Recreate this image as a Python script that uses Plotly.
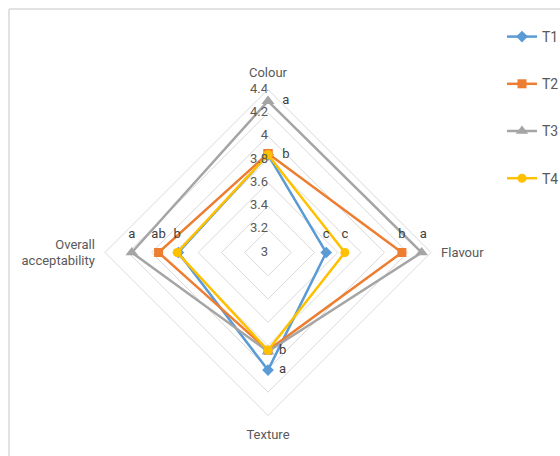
import plotly.graph_objects as go

categories = ["Colour", "Flavour", "Texture", "Overall acceptability"]
category_labels = ["Colour", "Flavour", "Texture", "Overall<br>acceptability"]
series_names = ["T1", "T2", "T3", "T4"]
t1 = [3.84, 3.50, 4.01, 3.77]
t2 = [3.85, 4.15, 3.84, 3.94]
t3 = [4.30, 4.32, 3.85, 4.17]
t4 = [3.84, 3.66, 3.84, 3.78]
letters_t1 = ["", "c", "a", ""]
letters_t2 = ["", "b", "", "ab"]
letters_t3 = ["a", " a", "", "a"]
letters_t4 = ["b", "c", "b", "b"]
radial_ticks = [3, 3.2, 3.4, 3.6, 3.8, 4, 4.2, 4.4]
radial_ticktext = ["3", "3.2", "3.4", "3.6", "3.8", "4", "4.2", "4.4"]

colors = ["#5B9BD5", "#ED7D31", "#A5A5A5", "#FFC000"]
symbols = ["diamond", "square", "triangle-up", "circle"]
values = [t1, t2, t3, t4]
letters = [letters_t1, letters_t2, letters_t3, letters_t4]
positions = ["middle right", "top center", "middle right", "top center"]

FONT = "Liberation Sans Narrow, Arial Narrow, Roboto, sans-serif"

fig = go.Figure()
for name, vals, col, sym in zip(series_names, values, colors, symbols):
    fig.add_trace(go.Scatterpolar(
        r=vals + [vals[0]],
        theta=categories + [categories[0]],
        mode="lines+markers",
        name=name,
        legendgroup=name,
        line=dict(color=col, width=2.5),
        marker=dict(color=col, symbol=sym, size=9 if sym != "triangle-up" else 11),
    ))
for name, vals, let in zip(series_names, values, letters):
    fig.add_trace(go.Scatterpolar(
        r=vals,
        theta=categories,
        mode="markers+text",
        text=[(" " + s if (s and th == "Colour") else s) for s, th in zip(let, categories)],
        textposition=positions,
        marker=dict(size=16, color="rgba(0,0,0,0)"),
        textfont=dict(family=FONT, size=13, color="#404040"),
        showlegend=False,
        hoverinfo="skip",
        cliponaxis=False,
    ))
# radial tick labels, placed left of the vertical axis
fig.add_trace(go.Scatterpolar(
    r=[min(max(v, 3.001), 4.399) for v in radial_ticks],
    theta=[categories[0]] * len(radial_ticks),
    mode="text",
    text=radial_ticktext,
    textposition="middle left",
    textfont=dict(family=FONT, size=13, color="#595959"),
    showlegend=False,
    hoverinfo="skip",
    cliponaxis=False,
))

R = 163
cx, cy = 268, 252.5
W, H = 560, 456
fig.update_layout(
    width=W, height=H,
    margin=dict(l=0, r=0, t=0, b=0, autoexpand=False),
    paper_bgcolor="white",
    font=dict(family=FONT, size=14, color="#595959"),
    polar=dict(
        domain=dict(x=[(cx - R) / W, (cx + R) / W], y=[(H - cy - R) / H, (H - cy + R) / H]),
        bgcolor="white",
        gridshape="linear",
        angularaxis=dict(
            rotation=90, direction="clockwise",
            tickmode="array", tickvals=categories, ticktext=category_labels,
            showgrid=False, showline=True, linecolor="#D9D9D9", linewidth=1,
            ticks="outside", ticklen=7, tickcolor="rgba(0,0,0,0)",
            tickfont=dict(size=13, color="#595959"),
        ),
        radialaxis=dict(
            range=[3, 4.4], tickvals=radial_ticks, showticklabels=False,
            angle=90, showline=False, ticks="", gridcolor="#D9D9D9", gridwidth=1,
        ),
    ),
    legend=dict(
        x=502 / W, y=1 - 21 / H, xanchor="left", yanchor="top",
        font=dict(size=14, color="#595959"),
        tracegroupgap=26, bgcolor="rgba(0,0,0,0)",
    ),
    shapes=[
        dict(type="line", xref="paper", yref="paper", x0=9 / W, x1=1, y0=1 - 9 / H, y1=1 - 9 / H,
             line=dict(color="#D9D9D9", width=1.5)),
        dict(type="line", xref="paper", yref="paper", x0=9 / W, x1=9 / W, y0=0, y1=1 - 9 / H,
             line=dict(color="#D9D9D9", width=1.5)),
    ],
)

fig.write_html("out.html", config={"displayModeBar": False},
               post_script="document.body.style.margin='0';")
